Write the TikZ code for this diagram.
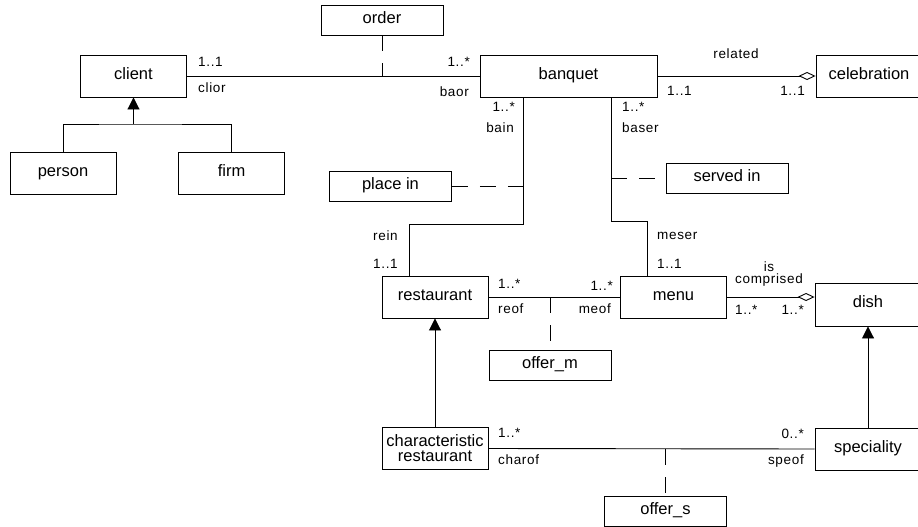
\documentclass[tikz,border=0pt]{standalone}
\usepackage{fontspec}
\setmainfont{Liberation Sans}
\newfontfamily\rolefont[LetterSpace=5]{Liberation Sans}
\usetikzlibrary{arrows.meta}

\begin{document}
\begin{tikzpicture}[
    x=1pt, y=-1pt,
    % Class boxes
    entitybase/.style={
        draw,
        line width=0.9pt,
        minimum width=106pt,
        minimum height=42pt,
        inner sep=1pt,
        align=center,
        font=\fontsize{16.5}{16}\selectfont
    },
    entity/.style={
        entitybase,
        text height=1.6ex,
        text depth=0.35ex
    },
    % Association class boxes
    assocbox/.style={
        entity,
        minimum width=122pt,
        minimum height=30pt
    },
    % Role and multiplicity labels
    role/.style={
        inner sep=0pt,
        font=\rolefont\fontsize{13.5}{14}\selectfont
    },
    % Connector styles
    link/.style={line width=0.9pt},
    assoclink/.style={line width=0.9pt, dash pattern=on 16pt off 12pt},
    isa/.style={line width=0.9pt, -{Triangle[length=12pt,width=12pt]}},
    partof/.style={line width=0.9pt, -{Diamond[open,length=17pt,width=8pt]}}
    ]

    \useasboundingbox (0,0) rectangle (918,527);

    % Classes
    \node[assocbox] (order) at (382,20) {order};
    \node[entity] (client) at (133.5,76) {client};
    \node[entity] (person) at (63,173) {person};
    \node[entity] (firm) at (231.5,173) {firm};
    \node[entity, minimum width=177pt] (banquet) at (568.5,76) {banquet};
    \node[entity] (celebration) at (869,76) {celebration};
    \node[assocbox] (placein) at (390.5,186.5) {place in};
    \node[assocbox] (servedin) at (727,178.5) {served in};
    \node[entity] (restaurant) at (435,297) {restaurant};
    \node[entity] (menu) at (673.5,297) {menu};
    \node[entity, minimum height=43pt] (dish) at (868,304.5) {dish};
    \node[assocbox] (offerm) at (550,365.5) {offer\_m};
    \node[entitybase] (charrest) at (435,448.5) {characteristic\\[-1pt]restaurant};
    \node[entity] (speciality) at (868,449) {speciality};
    \node[assocbox] (offers) at (665.5,511.5) {offer\_s};

    % client -- banquet, with order
    \draw[link] (client.east) -- (banquet.west);
    \draw[assoclink] (order.south) -- (order.south |- banquet.west);

    % client generalization
    \coordinate (clientfork) at (133.5,124);
    \draw[link] (person.north) |- (clientfork) -| (firm.north);
    \draw[isa] (clientfork) -- (client.south);

    % banquet -- celebration
    \draw[partof] (banquet.east) -- (celebration.west);

    % banquet -- restaurant, with place in
    \coordinate (inlink) at ([xshift=-45.5pt]banquet.south);
    \draw[link] (inlink) -- ++(0,127) -| ([xshift=-26pt]restaurant.north);
    \draw[assoclink] (placein.east) -- (placein.east -| inlink);

    % banquet -- menu, with served in
    \coordinate (serlink) at ([xshift=42.5pt]banquet.south);
    \draw[link] (serlink) -- ++(0,124) -| ([xshift=-26.5pt]menu.north);
    \draw[assoclink] (serlink |- servedin.west) -- (servedin.west);

    % restaurant -- menu, with offer_m
    \draw[link] (restaurant.east) -- (menu.west);
    \draw[assoclink] (offerm.north |- menu.west) -- (offerm.north);

    % menu -- dish
    \draw[partof] (menu.east) -- (menu.east -| dish.west);

    % specializations
    \draw[isa] (charrest.north) -- (restaurant.south);
    \draw[isa] (speciality.north) -- (dish.south);

    % characteristic restaurant -- speciality, with offer_s
    \draw[link] (charrest.east) -- (speciality.west);
    \draw[assoclink] (offers.north |- speciality.west) -- (offers.north);

    % Multiplicities and roles
    \node[role, anchor=west] (m1) at (198,62) {1..1};
    \node[role, anchor=west] (r1) at (198,88) {clior};
    \node[role, anchor=east] (m2) at (470,62) {1..*};
    \node[role, anchor=east] (r2) at (469,92) {baor};
    \node[role] (rel) at (736,54) {related};
    \node[role, anchor=west] (m3) at (667,91) {1..1};
    \node[role, anchor=east] (m4) at (805,91) {1..1};
    \node[role, anchor=east] (m5) at (515,107) {1..*};
    \node[role, anchor=east] (r5) at (514,128) {bain};
    \node[role, anchor=west] (m6) at (622,107) {1..*};
    \node[role, anchor=west] (r6) at (622,128) {baser};
    \node[role, anchor=west] (r7) at (373,236) {rein};
    \node[role, anchor=west] (m7) at (373,264) {1..1};
    \node[role, anchor=west] (r8) at (657,236) {meser};
    \node[role, anchor=west] (m8) at (657,264) {1..1};
    \node[role, anchor=west] (m9) at (498,284) {1..*};
    \node[role, anchor=west] (r9) at (498,309) {reof};
    \node[role, anchor=east] (m10) at (613,286) {1..*};
    \node[role, anchor=east] (r10) at (611,309) {meof};
    \node[role, align=center] (comp) at (769,274) {is\\[-2pt]comprised};
    \node[role, anchor=west] (m11) at (735,310) {1..*};
    \node[role, anchor=east] (m12) at (804,310) {1..*};
    \node[role, anchor=west] (m13) at (498,433) {1..*};
    \node[role, anchor=west] (r13) at (498,460) {charof};
    \node[role, anchor=east] (m14) at (804,434) {0..*};
    \node[role, anchor=east] (r14) at (804,461) {speof};

\end{tikzpicture}
\end{document}
